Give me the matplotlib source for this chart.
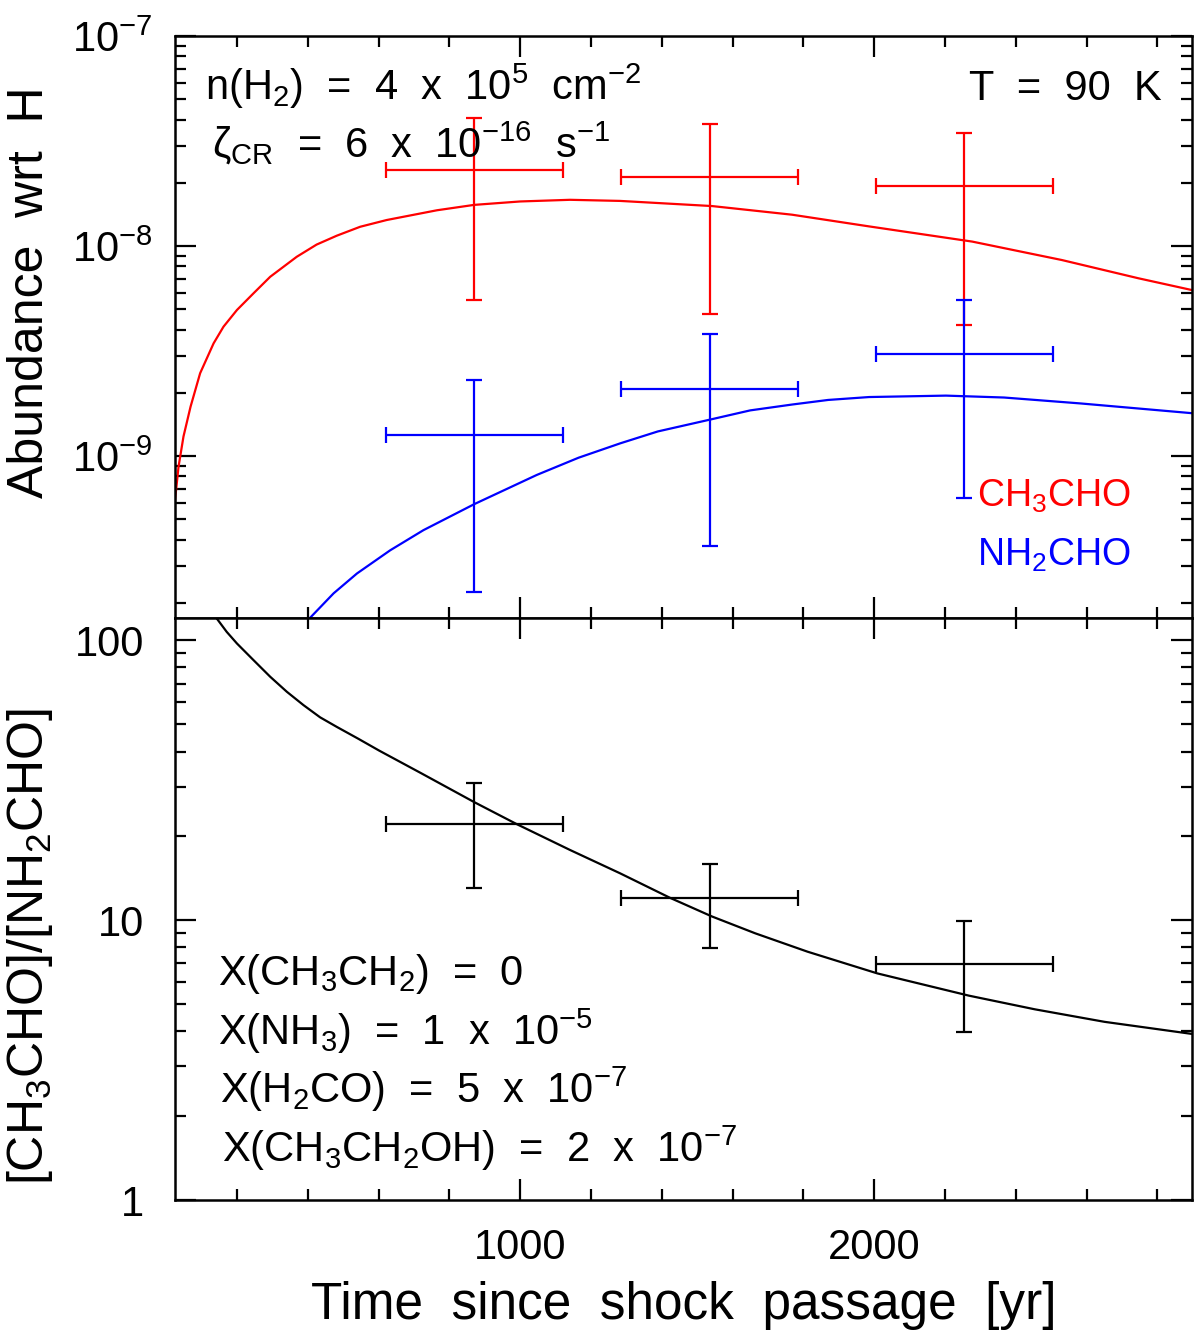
import numpy as np
import matplotlib
matplotlib.use("Agg")
import matplotlib.pyplot as plt
from matplotlib.ticker import (LogLocator, MultipleLocator, NullFormatter, FixedLocator,
                               FixedFormatter, LogFormatterMathtext)

plt.rcParams['font.family'] = ['Liberation Sans', 'DejaVu Sans']
plt.rcParams['mathtext.default'] = 'regular'

# --- model curves ---
t_ch3cho = [25, 35, 49, 69, 96, 134, 162, 200, 247, 294, 369, 425, 482, 548, 623, 765, 870,
            1000, 1141, 1282, 1542, 1768, 1986, 2277, 2530, 2747, 2898]
ab_ch3cho = [6.17e-10, 8.9e-10, 1.24e-9, 1.72e-9, 2.48e-9, 3.44e-9, 4.13e-9, 4.96e-9,
             5.96e-9, 7.14e-9, 8.89e-9, 1.016e-8, 1.12e-8, 1.235e-8, 1.33e-8, 1.48e-8,
             1.57e-8, 1.63e-8, 1.66e-8, 1.64e-8, 1.55e-8, 1.41e-8, 1.24e-8, 1.05e-8,
             8.58e-9, 7.02e-9, 6.17e-9]

t_nh2cho = [395, 473, 539, 633, 727, 871, 1047, 1165, 1283, 1389, 1543, 1650, 1769, 1870,
            1986, 2203, 2367, 2584, 2898]
ab_nh2cho = [1.62e-10, 2.22e-10, 2.76e-10, 3.56e-10, 4.44e-10, 5.91e-10, 8.13e-10, 9.82e-10,
             1.15e-9, 1.31e-9, 1.50e-9, 1.65e-9, 1.76e-9, 1.85e-9, 1.91e-9, 1.94e-9,
             1.90e-9, 1.78e-9, 1.60e-9]

t_ratio = [143, 171, 200, 247, 294, 341, 388, 435, 482, 542, 602, 718, 870, 991, 1141, 1282,
           1424, 1542, 1664, 1812, 2009, 2268, 2454, 2651, 2898]
ratio = [119.5, 107.1, 97.3, 84.8, 74.0, 65.4, 58.6, 53.0, 49.0, 44.5, 40.3, 33.6, 26.4, 22.0,
         17.8, 14.7, 12.0, 10.3, 8.97, 7.71, 6.45, 5.37, 4.80, 4.33, 3.92]

# --- observations ---
obs_t = [870, 1535, 2255]
obs_terr = [250, 250, 250]
obs_ch3cho = [2.30e-8, 2.14e-8, 1.93e-8]
obs_ch3cho_lo = [5.53e-9, 4.74e-9, 4.21e-9]
obs_ch3cho_hi = [4.07e-8, 3.81e-8, 3.45e-8]
obs_nh2cho = [1.26e-9, 2.08e-9, 3.06e-9]
obs_nh2cho_lo = [2.25e-10, 3.73e-10, 6.31e-10]
obs_nh2cho_hi = [2.30e-9, 3.81e-9, 5.53e-9]
obs_ratio = [22.0, 11.95, 6.95]
obs_ratio_lo = [13.0, 7.96, 3.99]
obs_ratio_hi = [30.9, 15.9, 9.94]

top_ticks = [1e-9, 1e-8, 1e-7]
bottom_ticks = [1, 10, 100]
bottom_ticklabels = ['1', '10', '100']
x_ticks = [1000, 2000]

W, H = 1200, 1335
fig = plt.figure(figsize=(W / 100, H / 100), dpi=100)

def fx(px):
    return px / W

def fy(py):
    return 1 - py / H

x0, x1, ytop, ymid, ybot = 175, 1192, 36, 618, 1200
ax1 = fig.add_axes([fx(x0), fy(ymid), fx(x1) - fx(x0), fy(ytop) - fy(ymid)])
ax2 = fig.add_axes([fx(x0), fy(ybot), fx(x1) - fx(x0), fy(ymid) - fy(ybot)])

lw = 1.6
def yerr(c, lo, hi):
    c = np.array(c); lo = np.array(lo); hi = np.array(hi)
    return [c - lo, hi - c]

ax1.plot(t_ch3cho, ab_ch3cho, color='red', lw=lw)
ax1.plot(t_nh2cho, ab_nh2cho, color='blue', lw=lw)
ax1.errorbar(obs_t, obs_ch3cho, xerr=obs_terr, yerr=yerr(obs_ch3cho, obs_ch3cho_lo, obs_ch3cho_hi),
             fmt='none', ecolor='red', elinewidth=lw, capsize=5.5, capthick=lw)
ax1.errorbar(obs_t, obs_nh2cho, xerr=obs_terr, yerr=yerr(obs_nh2cho, obs_nh2cho_lo, obs_nh2cho_hi),
             fmt='none', ecolor='blue', elinewidth=lw, capsize=5.5, capthick=lw)

ax2.plot(t_ratio, ratio, color='black', lw=lw)
ax2.errorbar(obs_t, obs_ratio, xerr=obs_terr, yerr=yerr(obs_ratio, obs_ratio_lo, obs_ratio_hi),
             fmt='none', ecolor='black', elinewidth=lw, capsize=5.5, capthick=lw)

xlim = (25, 2898)
for ax in (ax1, ax2):
    ax.set_xlim(*xlim)
    ax.set_yscale('log')
    ax.xaxis.set_major_locator(FixedLocator(x_ticks))
    ax.xaxis.set_minor_locator(MultipleLocator(200))
    ax.yaxis.set_minor_locator(LogLocator(base=10, subs=np.arange(2, 10), numticks=20))
    ax.yaxis.set_minor_formatter(NullFormatter())
    ax.tick_params(which='both', direction='in', top=True, right=True, width=1.6,
                   labelsize=30, pad=20, colors='black')
    ax.tick_params(which='major', length=15)
    ax.tick_params(which='minor', length=8)
    for s in ax.spines.values():
        s.set_linewidth(1.8)

ax1.set_ylim(10 ** -9.771, 1e-7)
ax1.yaxis.set_major_locator(FixedLocator(top_ticks))
ax1.yaxis.set_major_formatter(LogFormatterMathtext())
ax1.tick_params(labelbottom=False)
ax1.tick_params(axis='y', pad=16)

ax2.set_ylim(1, 120)
ax2.yaxis.set_major_locator(FixedLocator(bottom_ticks))
ax2.yaxis.set_major_formatter(FixedFormatter(bottom_ticklabels))
ax2.tick_params(axis='y', pad=22)

fig.text(fx(30), fy(292), 'Abundance  wrt  H', rotation=90, ha='center', va='center', fontsize=36)
fig.text(fx(30), fy(946), '[CH$_3$CHO]/[NH$_2$CHO]', rotation=90, ha='center', va='center', fontsize=36)
fig.text(fx(684), fy(1305), 'Time  since  shock  passage  [yr]', ha='center', va='center', fontsize=37)

fs = 30
fig.text(fx(205), fy(100), 'n(H$_2$)  =  4  x  10$^5$  cm$^{-2}$', ha='left', va='baseline', fontsize=fs)
fig.text(fx(212), fy(158), r'$\zeta_{CR}$  =  6  x  10$^{-16}$  s$^{-1}$', ha='left', va='baseline', fontsize=fs)
fig.text(fx(1162), fy(100), 'T  =  90  K', ha='right', va='baseline', fontsize=fs)
fig.text(fx(977), fy(507), 'CH$_3$CHO', ha='left', va='baseline', fontsize=27, color='red')
fig.text(fx(977), fy(566), 'NH$_2$CHO', ha='left', va='baseline', fontsize=27, color='blue')

fig.text(fx(218), fy(985), 'X(CH$_3$CH$_2$)  =  0', ha='left', va='baseline', fontsize=fs)
fig.text(fx(218), fy(1045), 'X(NH$_3$)  =  1  x  10$^{-5}$', ha='left', va='baseline', fontsize=fs)
fig.text(fx(220), fy(1103), 'X(H$_2$CO)  =  5  x  10$^{-7}$', ha='left', va='baseline', fontsize=fs)
fig.text(fx(222), fy(1162), 'X(CH$_3$CH$_2$OH)  =  2  x  10$^{-7}$', ha='left', va='baseline', fontsize=fs)

fig.savefig('out.png', dpi=100)
